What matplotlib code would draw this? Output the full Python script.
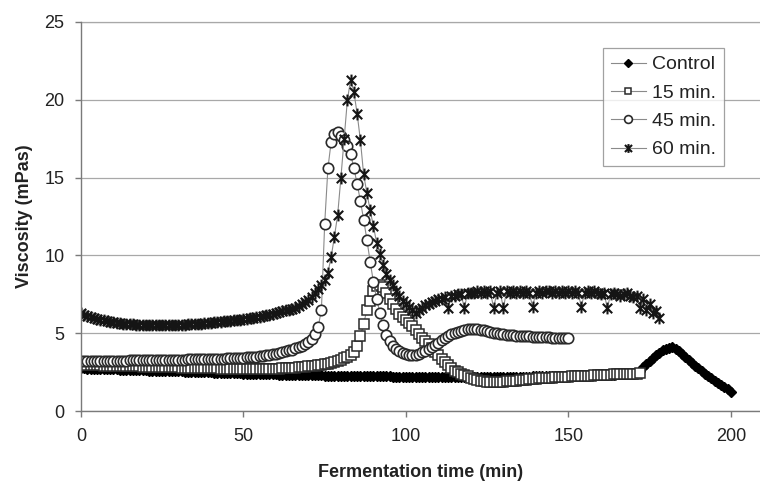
import matplotlib
matplotlib.use("Agg")
import matplotlib.pyplot as plt
import numpy as np
from matplotlib.path import Path

plt.rcParams['font.family'] = ['Liberation Sans', 'DejaVu Sans']

# ---- data (viscosity, mPas), one reading per minute starting at t = 0 ----
control = [
    2.75, 2.74, 2.73, 2.72, 2.72, 2.71, 2.70, 2.70, 2.69, 2.68,
    2.68, 2.67, 2.66, 2.66, 2.65, 2.64, 2.64, 2.63, 2.62, 2.62,
    2.61, 2.60, 2.60, 2.59, 2.58, 2.58, 2.57, 2.56, 2.56, 2.55,
    2.54, 2.54, 2.53, 2.52, 2.52, 2.51, 2.50, 2.50, 2.49, 2.48,
    2.48, 2.47, 2.46, 2.46, 2.45, 2.44, 2.44, 2.43, 2.42, 2.42,
    2.41, 2.40, 2.40, 2.39, 2.38, 2.38, 2.37, 2.36, 2.36, 2.35,
    2.35, 2.34, 2.34, 2.33, 2.33, 2.32, 2.32, 2.31, 2.31, 2.30,
    2.30, 2.30, 2.29, 2.29, 2.29, 2.28, 2.28, 2.28, 2.27, 2.27,
    2.27, 2.26, 2.26, 2.26, 2.25, 2.25, 2.25, 2.24, 2.24, 2.24,
    2.23, 2.23, 2.23, 2.22, 2.22, 2.22, 2.21, 2.21, 2.21, 2.20,
    2.20, 2.20, 2.19, 2.19, 2.19, 2.18, 2.18, 2.18, 2.18, 2.17,
    2.17, 2.17, 2.17, 2.16, 2.16, 2.16, 2.16, 2.16, 2.16, 2.16,
    2.16, 2.16, 2.16, 2.16, 2.17, 2.17, 2.17, 2.17, 2.18, 2.18,
    2.18, 2.19, 2.19, 2.19, 2.20, 2.20, 2.21, 2.21, 2.21, 2.22,
    2.22, 2.23, 2.23, 2.24, 2.24, 2.25, 2.25, 2.26, 2.26, 2.27,
    2.27, 2.28, 2.28, 2.29, 2.29, 2.30, 2.30, 2.31, 2.31, 2.32,
    2.32, 2.33, 2.33, 2.34, 2.34, 2.35, 2.35, 2.36, 2.36, 2.37,
    2.38, 2.45, 2.60, 2.80, 3.00, 3.20, 3.40, 3.60, 3.75, 3.90,
    4.00, 4.08, 4.10, 4.00, 3.85, 3.65, 3.45, 3.30, 3.10, 2.90,
    2.75, 2.55, 2.40, 2.25, 2.10, 1.95, 1.80, 1.70, 1.55, 1.40,
    1.25,
]

min15 = [
    3.00, 2.98, 2.97, 2.96, 2.95, 2.94, 2.93, 2.92, 2.92, 2.91,
    2.90, 2.90, 2.89, 2.88, 2.88, 2.87, 2.87, 2.86, 2.86, 2.85,
    2.85, 2.84, 2.84, 2.83, 2.83, 2.82, 2.82, 2.81, 2.81, 2.80,
    2.80, 2.79, 2.79, 2.78, 2.78, 2.77, 2.77, 2.76, 2.76, 2.75,
    2.75, 2.74, 2.74, 2.73, 2.73, 2.72, 2.72, 2.72, 2.71, 2.71,
    2.70, 2.70, 2.70, 2.70, 2.70, 2.70, 2.70, 2.71, 2.71, 2.72,
    2.72, 2.73, 2.74, 2.75, 2.76, 2.77, 2.78, 2.80, 2.82, 2.84,
    2.86, 2.88, 2.90, 2.93, 2.96, 3.00, 3.04, 3.08, 3.15, 3.22,
    3.30, 3.40, 3.50, 3.62, 3.80, 4.20, 4.80, 5.60, 6.50, 7.10,
    7.70, 8.05, 8.10, 7.95, 7.60, 7.20, 6.85, 6.55, 6.25, 6.05,
    5.85, 5.65, 5.45, 5.20, 4.95, 4.70, 4.50, 4.30, 4.05, 3.80,
    3.60, 3.35, 3.15, 2.95, 2.75, 2.60, 2.48, 2.38, 2.30, 2.22,
    2.15, 2.08, 2.02, 1.96, 1.92, 1.88, 1.86, 1.85, 1.85, 1.86,
    1.88, 1.90, 1.92, 1.94, 1.96, 1.98, 2.00, 2.02, 2.04, 2.06,
    2.08, 2.10, 2.11, 2.12, 2.14, 2.15, 2.16, 2.18, 2.19, 2.20,
    2.21, 2.22, 2.23, 2.24, 2.25, 2.26, 2.27, 2.28, 2.29, 2.30,
    2.31, 2.32, 2.33, 2.34, 2.35, 2.36, 2.37, 2.38, 2.39, 2.40,
    2.40, 2.41, 2.42,
]

min45 = [
    3.20, 3.20, 3.20, 3.21, 3.21, 3.21, 3.22, 3.22, 3.22, 3.23,
    3.23, 3.23, 3.24, 3.24, 3.24, 3.25, 3.25, 3.25, 3.26, 3.26,
    3.26, 3.27, 3.27, 3.27, 3.28, 3.28, 3.28, 3.29, 3.29, 3.29,
    3.30, 3.30, 3.30, 3.31, 3.31, 3.32, 3.32, 3.33, 3.33, 3.34,
    3.34, 3.35, 3.35, 3.36, 3.37, 3.38, 3.39, 3.40, 3.41, 3.42,
    3.43, 3.44, 3.46, 3.48, 3.50, 3.52, 3.55, 3.58, 3.61, 3.65,
    3.69, 3.73, 3.78, 3.83, 3.89, 3.95, 4.02, 4.10, 4.20, 4.32,
    4.46, 4.65, 4.95, 5.40, 6.50, 12.0, 15.6, 17.3, 17.8, 17.9,
    17.7, 17.4, 17.0, 16.5, 15.6, 14.6, 13.5, 12.3, 11.0, 9.6,
    8.3, 7.2, 6.3, 5.5, 4.9, 4.5, 4.2, 4.0, 3.85, 3.75,
    3.68, 3.62, 3.60, 3.62, 3.68, 3.76, 3.86, 3.98, 4.12, 4.26,
    4.40, 4.54, 4.68, 4.80, 4.92, 5.02, 5.10, 5.17, 5.22, 5.26,
    5.28, 5.28, 5.26, 5.22, 5.18, 5.13, 5.08, 5.04, 5.00, 4.97,
    4.94, 4.91, 4.89, 4.87, 4.85, 4.83, 4.81, 4.80, 4.79, 4.78,
    4.77, 4.76, 4.75, 4.74, 4.73, 4.72, 4.72, 4.71, 4.71, 4.70,
    4.70,
]

min60 = [
    6.30, 6.20, 6.12, 6.05, 5.98, 5.92, 5.87, 5.82, 5.78, 5.74,
    5.70, 5.67, 5.64, 5.62, 5.60, 5.58, 5.56, 5.55, 5.54, 5.53,
    5.52, 5.51, 5.50, 5.50, 5.50, 5.50, 5.50, 5.50, 5.51, 5.52,
    5.53, 5.54, 5.55, 5.56, 5.57, 5.58, 5.60, 5.62, 5.64, 5.66,
    5.68, 5.70, 5.72, 5.74, 5.76, 5.78, 5.80, 5.82, 5.85, 5.88,
    5.91, 5.94, 5.97, 6.00, 6.03, 6.07, 6.11, 6.15, 6.20, 6.25,
    6.30, 6.36, 6.42, 6.46, 6.50, 6.55, 6.62, 6.72, 6.85, 7.00,
    7.15, 7.35, 7.60, 7.85, 8.10, 8.40, 8.90, 9.90, 11.2, 12.6,
    15.0, 17.5, 20.0, 21.3, 20.5, 19.1, 17.4, 15.2, 14.0, 12.9,
    11.9, 10.8, 10.1, 9.4, 8.8, 8.4, 8.1, 7.7, 7.4, 7.1,
    6.9, 6.7, 6.5, 6.3, 6.5, 6.6, 6.8, 6.9, 7.0, 7.1,
    7.2, 7.2, 7.3, 6.6, 7.4, 7.4, 7.5, 7.5, 6.6, 7.6,
    7.6, 7.6, 7.7, 7.6, 7.7, 7.6, 7.7, 6.6, 7.6, 7.7,
    6.6, 7.7, 7.6, 7.7, 7.6, 7.7, 7.6, 7.7, 7.6, 6.7,
    7.6, 7.7, 7.6, 7.7, 7.7, 7.6, 7.7, 7.6, 7.7, 7.6,
    7.7, 7.6, 7.7, 7.6, 6.7, 7.6, 7.7, 7.6, 7.7, 7.6,
    7.5, 7.6, 6.6, 7.5, 7.6, 7.5, 7.4, 7.5, 7.6, 7.4,
    7.3, 7.4, 6.6, 7.2, 6.5, 6.9, 6.3, 6.4, 6.0,
]

labels = ["Control", "15 min.", "45 min.", "60 min."]
x_ticks = [0, 50, 100, 150, 200]
y_ticks = [0, 5, 10, 15, 20, 25]

# Excel-style "star" marker: an X plus a vertical bar
star = Path([(-1, -1), (1, 1), (-1, 1), (1, -1), (0, -1.25), (0, 1.25)],
            [Path.MOVETO, Path.LINETO, Path.MOVETO, Path.LINETO,
             Path.MOVETO, Path.LINETO])

fig = plt.figure(figsize=(7.6, 4.88), dpi=100)
ax = fig.add_axes([81 / 760, 1 - 411 / 488, 679 / 760, 389 / 488])

line_kw = dict(color='#8a8a8a', lw=0.8)
series = [control, min15, min45, min60]
styles = [
    dict(marker='D', ms=5.5, mfc='black', mec='black', mew=1.0),
    dict(marker='s', ms=6.5, mfc='white', mec='#2a2a2a', mew=1.1),
    dict(marker='o', ms=7.5, mfc='white', mec='#2a2a2a', mew=1.2),
    dict(marker=star, ms=8.5, mfc='black', mec='#151515', mew=1.5),
]
for vals, lab, st in zip(series, labels, styles):
    t = np.arange(len(vals))
    ax.plot(t, vals, label=lab, **line_kw, **st)

ax.set_xlim(0, 209)
ax.set_ylim(0, 25)
ax.set_xticks(x_ticks)
ax.set_yticks(y_ticks)
ax.yaxis.grid(True, color='#a8a8a8', lw=0.9)
ax.axhline(25, color='#a8a8a8', lw=0.9, clip_on=False, zorder=0)
ax.set_axisbelow(True)
for s in ['top', 'right']:
    ax.spines[s].set_visible(False)
for s in ['left', 'bottom']:
    ax.spines[s].set_color('#7a7a7a')
    ax.spines[s].set_linewidth(1.0)
ax.tick_params(axis='both', direction='out', length=4, width=1.0,
               color='#7a7a7a', labelsize=13, pad=8, labelcolor='#222222')

ax.set_xlabel('Fermentation time (min)', fontsize=13, fontweight='bold',
              color='#222222', labelpad=14)
ax.set_ylabel('Viscosity (mPas)', fontsize=13, fontweight='bold',
              color='#222222', labelpad=8)

leg = ax.legend(loc='upper left', bbox_to_anchor=(0.769, 0.933), fontsize=14,
                frameon=True, fancybox=False, edgecolor='#8a8a8a',
                handlelength=1.8, handletextpad=0.3, labelspacing=0.55,
                borderpad=0.4, borderaxespad=0, markerscale=0.75)
leg.get_frame().set_linewidth(0.9)
for txt in leg.get_texts():
    txt.set_color('#222222')

fig.savefig('out.png', dpi=100)
